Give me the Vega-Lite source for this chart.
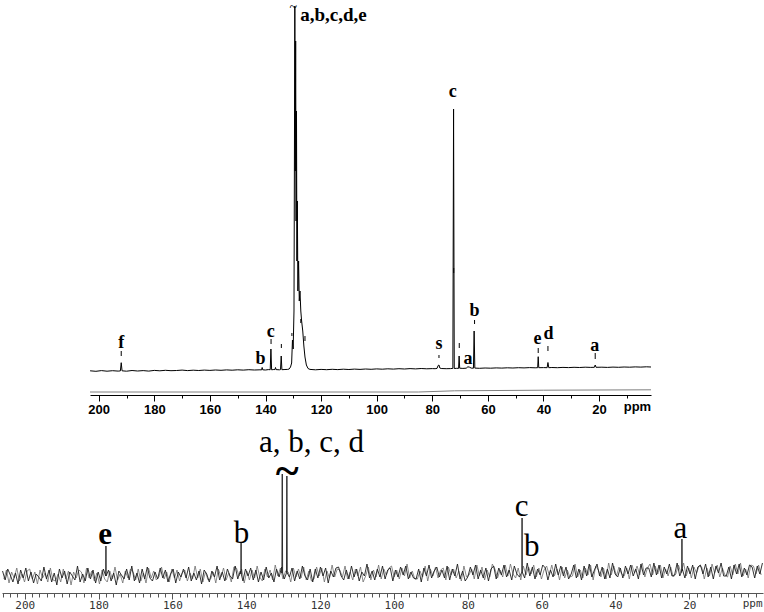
{
  "$schema": "https://vega.github.io/schema/vega-lite/v6.json",
  "padding": 0,
  "background": "white",
  "spacing": 31,
  "bounds": "flush",
  "config": {"view": {"stroke": null}, "axis": {"grid": false}},
  "datasets": {
    "topSpec": [
      {"p":203.1,"v":0.2},{"p":201,"v":-0.3},{"p":199,"v":0.4},{"p":197,"v":-0.2},{"p":195,"v":0.3},{"p":193,"v":-0.1},{"p":192.2,"v":0.1},{"p":191.9,"v":8.3},{"p":191.6,"v":0.2},{"p":190,"v":-0.2},{"p":188,"v":0.5},{"p":186,"v":0.0},{"p":184,"v":0.4},{"p":182,"v":-0.1},{"p":180,"v":0.6},{"p":178,"v":0.2},{"p":176,"v":0.7},{"p":174,"v":0.3},{"p":172,"v":0.5},{"p":170,"v":0.9},{"p":168,"v":0.4},{"p":166,"v":0.8},{"p":164,"v":0.5},{"p":162,"v":0.9},{"p":160,"v":0.6},{"p":158,"v":1.0},{"p":156,"v":0.7},{"p":154,"v":1.1},{"p":152,"v":0.8},{"p":150,"v":1.2},{"p":148,"v":0.9},{"p":146,"v":1.3},{"p":144,"v":1.0},{"p":142,"v":1.2},{"p":141.4,"v":1.1},{"p":141.2,"v":3.5},{"p":141.0,"v":1.2},{"p":140,"v":1.0},{"p":139,"v":1.4},{"p":138.3,"v":1.3},{"p":138.05,"v":22},{"p":137.8,"v":1.2},{"p":137,"v":1.5},{"p":136.6,"v":1.4},{"p":136.4,"v":3.5},{"p":136.2,"v":1.4},{"p":135,"v":1.2},{"p":134.6,"v":1.4},{"p":134.35,"v":15},{"p":134.1,"v":1.3},{"p":133,"v":1.5},{"p":132,"v":1.6},{"p":131.5,"v":2},{"p":131,"v":4},{"p":130.6,"v":8},{"p":130.3,"v":31},{"p":130.05,"v":22},{"p":129.75,"v":60},{"p":129.45,"v":365},{"p":129.3,"v":200},{"p":129.15,"v":330},{"p":129.0,"v":150},{"p":128.85,"v":260},{"p":128.7,"v":110},{"p":128.55,"v":170},{"p":128.35,"v":80},{"p":128.1,"v":110},{"p":127.85,"v":70},{"p":127.6,"v":80},{"p":127.3,"v":60},{"p":127.0,"v":50},{"p":126.6,"v":40},{"p":126.2,"v":25},{"p":125.8,"v":14},{"p":125.3,"v":6},{"p":124.7,"v":2.5},{"p":124,"v":1.6},{"p":122,"v":1.2},{"p":120,"v":1.6},{"p":118,"v":1.3},{"p":116,"v":1.7},{"p":114,"v":1.4},{"p":112,"v":1.8},{"p":110,"v":1.5},{"p":108,"v":1.9},{"p":106,"v":1.6},{"p":104,"v":2.0},{"p":102,"v":1.7},{"p":100,"v":2.1},{"p":98,"v":1.8},{"p":96,"v":2.2},{"p":94,"v":1.9},{"p":92,"v":2.3},{"p":90,"v":2.0},{"p":88,"v":2.4},{"p":86,"v":2.1},{"p":84,"v":2.5},{"p":82,"v":2.2},{"p":80,"v":2.4},{"p":79,"v":2.3},{"p":78.3,"v":2.6},{"p":77.9,"v":5.5},{"p":77.6,"v":6},{"p":77.3,"v":3.0},{"p":76.8,"v":2.5},{"p":75,"v":2.3},{"p":73.5,"v":2.4},{"p":72.6,"v":2.6},{"p":72.35,"v":262},{"p":72.1,"v":2.5},{"p":71.2,"v":2.7},{"p":70.55,"v":2.6},{"p":70.35,"v":15},{"p":70.15,"v":2.8},{"p":69,"v":2.6},{"p":67.8,"v":2.8},{"p":67.2,"v":4.2},{"p":66.6,"v":3.8},{"p":66,"v":2.9},{"p":65.2,"v":2.8},{"p":64.95,"v":40},{"p":64.7,"v":2.9},{"p":63,"v":2.7},{"p":61,"v":3.0},{"p":59,"v":2.8},{"p":57,"v":3.1},{"p":55,"v":2.9},{"p":53,"v":3.2},{"p":51,"v":3.0},{"p":49,"v":3.3},{"p":47,"v":3.1},{"p":45,"v":3.4},{"p":43,"v":3.2},{"p":42.1,"v":3.3},{"p":41.9,"v":14.3},{"p":41.7,"v":3.3},{"p":40,"v":3.4},{"p":38.7,"v":3.3},{"p":38.4,"v":8.5},{"p":38.1,"v":3.3},{"p":37,"v":3.5},{"p":35,"v":3.3},{"p":33,"v":3.6},{"p":31,"v":3.4},{"p":29,"v":3.7},{"p":27,"v":3.5},{"p":25,"v":3.8},{"p":23,"v":3.6},{"p":21.7,"v":3.7},{"p":21.4,"v":6},{"p":21.1,"v":3.7},{"p":19,"v":3.8},{"p":17,"v":3.6},{"p":15,"v":3.9},{"p":13,"v":3.7},{"p":11,"v":4.0},{"p":9,"v":3.8},{"p":7,"v":4.1},{"p":5,"v":3.9},{"p":3,"v":4.2},{"p":1.33,"v":4.0}
    ],
    "topIntegral": [
      {"p":203.13,"v":-21},{"p":85,"v":-21},{"p":72,"v":-19.8},{"p":40,"v":-19.2},{"p":1.33,"v":-18.8}
    ],
    "topDash": [
      {"p":191.9,"v":15,"v2":20},{"p":138.0,"v":27,"v2":32},{"p":134.3,"v":23,"v2":27},{"p":130.5,"v":35,"v2":38},{"p":127.3,"v":48,"v2":52},{"p":125.8,"v":30,"v2":35},{"p":77.6,"v":13,"v2":16},{"p":70.3,"v":23,"v2":28},{"p":64.8,"v":47,"v2":51},{"p":41.9,"v":18,"v2":23},{"p":38.4,"v":20,"v2":25},{"p":21.4,"v":12,"v2":18},{"p":72.3,"v":98,"v2":103}
    ],
    "topLabels": [
      {"p":191.9,"v":28,"t":"f"},{"p":141.8,"v":12,"t":"b"},{"p":138.1,"v":39,"t":"c"},{"p":77.6,"v":27,"t":"s"},{"p":67.2,"v":12,"t":"a"},{"p":64.8,"v":60,"t":"b"},{"p":42.2,"v":32,"t":"e"},{"p":38.2,"v":37,"t":"d"},{"p":21.6,"v":25,"t":"a"},{"p":72.6,"v":279,"t":"c"}
    ],
    "topMain": [{"p":127.5,"v":356,"t":"a,b,c,d,e"}],
    "topTilde": [{"p":130.0,"v":363,"t":"~"}],
    "botSpec": [
      {"p":206,"v":22},{"p":205.3,"v":13},{"p":204.6,"v":24},{"p":203.9,"v":18},{"p":203.2,"v":11},{"p":202.5,"v":20},{"p":201.8,"v":9},{"p":201.1,"v":23},{"p":200.4,"v":15},{"p":199.7,"v":25},
      {"p":199,"v":12},{"p":198.3,"v":21},{"p":197.6,"v":10},{"p":196.9,"v":19},{"p":196.2,"v":16},{"p":195.5,"v":12},{"p":194.8,"v":26},{"p":194.1,"v":14},{"p":193.4,"v":23},{"p":192.7,"v":11},
      {"p":192,"v":20},{"p":191.3,"v":8},{"p":190.6,"v":24},{"p":189.9,"v":15},{"p":189.2,"v":22},{"p":188.5,"v":9},{"p":187.8,"v":21},{"p":187.1,"v":17},{"p":186.4,"v":13},{"p":185.7,"v":27},
      {"p":185,"v":11},{"p":184.3,"v":19},{"p":183.6,"v":12},{"p":182.9,"v":25},{"p":182.2,"v":14},{"p":181.5,"v":23},{"p":180.8,"v":10},{"p":180.1,"v":21},{"p":179.4,"v":12},{"p":178.7,"v":24},
      {"p":178.05,"v":17},{"p":178.0,"v":47},{"p":177.95,"v":17},{"p":177.3,"v":23},{"p":176.6,"v":12},{"p":175.9,"v":20},{"p":175.2,"v":8},{"p":174.5,"v":22},{"p":173.8,"v":18},{"p":173.1,"v":14},{"p":172.4,"v":24},{"p":171.7,"v":13},
      {"p":171,"v":27},{"p":170.3,"v":12},{"p":169.6,"v":20},{"p":168.9,"v":10},{"p":168.2,"v":24},{"p":167.5,"v":14},{"p":166.8,"v":26},{"p":166.1,"v":15},{"p":165.4,"v":12},{"p":164.7,"v":21},
      {"p":164,"v":14},{"p":163.3,"v":25},{"p":162.6,"v":15},{"p":161.9,"v":23},{"p":161.2,"v":11},{"p":160.5,"v":19},{"p":159.8,"v":24},{"p":159.1,"v":10},{"p":158.4,"v":21},{"p":157.7,"v":16},
      {"p":157,"v":24},{"p":156.3,"v":15},{"p":155.6,"v":26},{"p":154.9,"v":12},{"p":154.2,"v":20},{"p":153.5,"v":13},{"p":152.8,"v":22},{"p":152.1,"v":9},{"p":151.4,"v":23},{"p":150.7,"v":19},
      {"p":150,"v":11},{"p":149.3,"v":22},{"p":148.6,"v":16},{"p":147.9,"v":27},{"p":147.2,"v":13},{"p":146.5,"v":21},{"p":145.8,"v":12},{"p":145.1,"v":24},{"p":144.4,"v":17},{"p":143.7,"v":14},
      {"p":143,"v":27},{"p":142.3,"v":14},{"p":141.6,"v":22},{"p":141.45,"v":19},{"p":141.4,"v":50},{"p":141.35,"v":19},{"p":140.9,"v":12},{"p":140.2,"v":24},{"p":139.5,"v":17},{"p":138.8,"v":25},{"p":138.1,"v":13},{"p":137.4,"v":23},{"p":136.7,"v":11},
      {"p":136,"v":21},{"p":135.3,"v":13},{"p":134.6,"v":26},{"p":133.9,"v":15},{"p":133.2,"v":20},{"p":132.5,"v":11},{"p":131.8,"v":24},{"p":131.1,"v":16},{"p":130.4,"v":26},{"p":130.35,"v":20},{"p":130.25,"v":119},{"p":130.15,"v":20},{"p":129.7,"v":14},
      {"p":129.1,"v":20},{"p":129.0,"v":117},{"p":128.9,"v":20},{"p":128.3,"v":16},{"p":127.6,"v":25},{"p":126.9,"v":12},{"p":126.2,"v":22},{"p":125.5,"v":14},{"p":124.8,"v":27},{"p":124.1,"v":17},{"p":123.4,"v":13},{"p":122.7,"v":24},
      {"p":122,"v":11},{"p":121.3,"v":24},{"p":120.6,"v":15},{"p":119.9,"v":26},{"p":119.2,"v":17},{"p":118.5,"v":25},{"p":117.8,"v":10},{"p":117.1,"v":22},{"p":116.4,"v":16},{"p":115.7,"v":25},
      {"p":115,"v":26},{"p":114.3,"v":17},{"p":113.6,"v":13},{"p":112.9,"v":23},{"p":112.2,"v":14},{"p":111.5,"v":27},{"p":110.8,"v":16},{"p":110.1,"v":24},{"p":109.4,"v":12},{"p":108.7,"v":21},
      {"p":108,"v":17},{"p":107.3,"v":29},{"p":106.6,"v":15},{"p":105.9,"v":22},{"p":105.2,"v":13},{"p":104.5,"v":24},{"p":103.8,"v":16},{"p":103.1,"v":27},{"p":102.4,"v":14},{"p":101.7,"v":23},
      {"p":101,"v":25},{"p":100.3,"v":12},{"p":99.6,"v":23},{"p":98.9,"v":16},{"p":98.2,"v":26},{"p":97.5,"v":18},{"p":96.8,"v":27},{"p":96.1,"v":14},{"p":95.4,"v":21},{"p":94.7,"v":15},
      {"p":94,"v":14},{"p":93.3,"v":24},{"p":92.6,"v":11},{"p":91.9,"v":25},{"p":91.2,"v":17},{"p":90.5,"v":28},{"p":89.8,"v":15},{"p":89.1,"v":22},{"p":88.4,"v":26},{"p":87.7,"v":16},
      {"p":87,"v":23},{"p":86.3,"v":15},{"p":85.6,"v":27},{"p":84.9,"v":13},{"p":84.2,"v":24},{"p":83.5,"v":17},{"p":82.8,"v":29},{"p":82.1,"v":14},{"p":81.4,"v":22},{"p":80.7,"v":12},
      {"p":80,"v":16},{"p":79.3,"v":26},{"p":78.6,"v":18},{"p":77.9,"v":28},{"p":77.2,"v":14},{"p":76.5,"v":23},{"p":75.8,"v":15},{"p":75.1,"v":25},{"p":74.4,"v":12},{"p":73.7,"v":24},
      {"p":73,"v":27},{"p":72.3,"v":14},{"p":71.6,"v":25},{"p":70.9,"v":18},{"p":70.2,"v":28},{"p":69.5,"v":16},{"p":68.8,"v":23},{"p":68.1,"v":13},{"p":67.4,"v":27},{"p":66.7,"v":19},
      {"p":66,"v":16},{"p":65.35,"v":21},{"p":65.3,"v":75},{"p":65.25,"v":21},{"p":64.6,"v":15},{"p":63.9,"v":30},{"p":63.2,"v":17},{"p":62.5,"v":26},{"p":61.8,"v":14},{"p":61.1,"v":24},{"p":60.4,"v":18},{"p":59.7,"v":28},
      {"p":59,"v":25},{"p":58.3,"v":13},{"p":57.6,"v":23},{"p":56.9,"v":16},{"p":56.2,"v":29},{"p":55.5,"v":18},{"p":54.8,"v":27},{"p":54.1,"v":17},{"p":53.4,"v":26},{"p":52.7,"v":14},
      {"p":52,"v":19},{"p":51.3,"v":28},{"p":50.6,"v":15},{"p":49.9,"v":24},{"p":49.2,"v":13},{"p":48.5,"v":27},{"p":47.8,"v":17},{"p":47.1,"v":29},{"p":46.4,"v":16},{"p":45.7,"v":23},
      {"p":45,"v":29},{"p":44.3,"v":17},{"p":43.6,"v":26},{"p":42.9,"v":14},{"p":42.2,"v":24},{"p":41.5,"v":15},{"p":40.8,"v":30},{"p":40.1,"v":19},{"p":39.4,"v":16},{"p":38.7,"v":25},
      {"p":38,"v":15},{"p":37.3,"v":27},{"p":36.6,"v":19},{"p":35.9,"v":28},{"p":35.2,"v":17},{"p":34.5,"v":24},{"p":33.8,"v":14},{"p":33.1,"v":29},{"p":32.4,"v":18},{"p":31.7,"v":25},
      {"p":31,"v":25},{"p":30.3,"v":16},{"p":29.6,"v":30},{"p":28.9,"v":18},{"p":28.2,"v":28},{"p":27.5,"v":15},{"p":26.8,"v":26},{"p":26.1,"v":19},{"p":25.4,"v":29},{"p":24.7,"v":17},
      {"p":24,"v":18},{"p":23.3,"v":30},{"p":22.6,"v":17},{"p":22.05,"v":22},{"p":22.0,"v":54},{"p":21.95,"v":22},{"p":21.9,"v":24},{"p":21.2,"v":15},{"p":20.5,"v":27},{"p":19.8,"v":19},{"p":19.1,"v":28},{"p":18.4,"v":14},{"p":17.7,"v":26},
      {"p":17,"v":28},{"p":16.3,"v":19},{"p":15.6,"v":29},{"p":14.9,"v":16},{"p":14.2,"v":26},{"p":13.5,"v":14},{"p":12.8,"v":27},{"p":12.1,"v":20},{"p":11.4,"v":30},{"p":10.7,"v":17},
      {"p":10,"v":17},{"p":9.3,"v":26},{"p":8.6,"v":14},{"p":7.9,"v":28},{"p":7.2,"v":19},{"p":6.5,"v":29},{"p":5.8,"v":16},{"p":5.1,"v":25},{"p":4.4,"v":18},{"p":3.7,"v":28},
      {"p":3,"v":26},{"p":2.3,"v":15},{"p":1.6,"v":27},{"p":0.9,"v":19},{"p":0.2,"v":30}
    ],
    "botNoise2": [
      {"p":205.65,"v":14},{"p":204.95,"v":23},{"p":204.25,"v":10},{"p":203.55,"v":21},{"p":202.85,"v":15},{"p":202.15,"v":25},{"p":201.45,"v":12},{"p":200.75,"v":19},{"p":200.05,"v":11},{"p":199.35,"v":22},
      {"p":198.65,"v":24},{"p":197.95,"v":14},{"p":197.25,"v":21},{"p":196.55,"v":9},{"p":195.85,"v":23},{"p":195.15,"v":15},{"p":194.45,"v":20},{"p":193.75,"v":11},{"p":193.05,"v":25},{"p":192.35,"v":13},
      {"p":191.65,"v":12},{"p":190.95,"v":19},{"p":190.25,"v":11},{"p":189.55,"v":24},{"p":188.85,"v":14},{"p":188.15,"v":22},{"p":187.45,"v":8},{"p":186.75,"v":21},{"p":186.05,"v":15},{"p":185.35,"v":23},
      {"p":184.65,"v":21},{"p":183.95,"v":10},{"p":183.25,"v":25},{"p":182.55,"v":15},{"p":181.85,"v":22},{"p":181.15,"v":12},{"p":180.45,"v":20},{"p":179.75,"v":9},{"p":179.05,"v":23},{"p":178.35,"v":14},
      {"p":177.65,"v":11},{"p":176.95,"v":22},{"p":176.25,"v":14},{"p":175.55,"v":26},{"p":174.85,"v":13},{"p":174.15,"v":19},{"p":173.45,"v":10},{"p":172.75,"v":22},{"p":172.05,"v":15},{"p":171.35,"v":24},
      {"p":170.65,"v":21},{"p":169.95,"v":13},{"p":169.25,"v":24},{"p":168.55,"v":12},{"p":167.85,"v":20},{"p":167.15,"v":10},{"p":166.45,"v":25},{"p":165.75,"v":15},{"p":165.05,"v":22},{"p":164.35,"v":13},
      {"p":163.65,"v":16},{"p":162.95,"v":26},{"p":162.25,"v":14},{"p":161.55,"v":21},{"p":160.85,"v":11},{"p":160.15,"v":24},{"p":159.45,"v":15},{"p":158.75,"v":23},{"p":158.05,"v":12},{"p":157.35,"v":20},
      {"p":156.65,"v":23},{"p":155.95,"v":12},{"p":155.25,"v":20},{"p":154.55,"v":14},{"p":153.85,"v":27},{"p":153.15,"v":15},{"p":152.45,"v":24},{"p":151.75,"v":11},{"p":151.05,"v":21},{"p":150.35,"v":13},
      {"p":149.65,"v":14},{"p":148.95,"v":21},{"p":148.25,"v":10},{"p":147.55,"v":24},{"p":146.85,"v":16},{"p":146.15,"v":25},{"p":145.45,"v":13},{"p":144.75,"v":20},{"p":144.05,"v":11},{"p":143.35,"v":26},
      {"p":142.65,"v":25},{"p":141.95,"v":17},{"p":141.25,"v":24},{"p":140.55,"v":10},{"p":139.85,"v":22},{"p":139.15,"v":13},{"p":138.45,"v":23},{"p":137.75,"v":15},{"p":137.05,"v":27},{"p":136.35,"v":16},
      {"p":135.65,"v":12},{"p":134.95,"v":24},{"p":134.25,"v":16},{"p":133.55,"v":23},{"p":132.85,"v":13},{"p":132.15,"v":28},{"p":131.45,"v":17},{"p":130.75,"v":25},{"p":130.05,"v":14},{"p":129.35,"v":22},
      {"p":128.65,"v":21},{"p":127.95,"v":11},{"p":127.25,"v":25},{"p":126.55,"v":16},{"p":125.85,"v":24},{"p":125.15,"v":15},{"p":124.45,"v":26},{"p":123.75,"v":13},{"p":123.05,"v":22},{"p":122.35,"v":12},
      {"p":121.65,"v":14},{"p":120.95,"v":26},{"p":120.25,"v":17},{"p":119.55,"v":25},{"p":118.85,"v":11},{"p":118.15,"v":22},{"p":117.45,"v":15},{"p":116.75,"v":28},{"p":116.05,"v":16},{"p":115.35,"v":24},
      {"p":114.65,"v":23},{"p":113.95,"v":16},{"p":113.25,"v":27},{"p":112.55,"v":14},{"p":111.85,"v":21},{"p":111.15,"v":13},{"p":110.45,"v":24},{"p":109.75,"v":17},{"p":109.05,"v":26},{"p":108.35,"v":11},
      {"p":107.65,"v":17},{"p":106.95,"v":26},{"p":106.25,"v":13},{"p":105.55,"v":23},{"p":104.85,"v":16},{"p":104.15,"v":28},{"p":103.45,"v":14},{"p":102.75,"v":24},{"p":102.05,"v":18},{"p":101.35,"v":25},
      {"p":100.65,"v":27},{"p":99.95,"v":16},{"p":99.25,"v":23},{"p":98.55,"v":14},{"p":97.85,"v":25},{"p":97.15,"v":17},{"p":96.45,"v":29},{"p":95.75,"v":15},{"p":95.05,"v":22},{"p":94.35,"v":14},
      {"p":93.65,"v":14},{"p":92.95,"v":22},{"p":92.25,"v":16},{"p":91.55,"v":27},{"p":90.85,"v":12},{"p":90.15,"v":24},{"p":89.45,"v":17},{"p":88.75,"v":26},{"p":88.05,"v":15},{"p":87.35,"v":23},
      {"p":86.65,"v":25},{"p":85.95,"v":13},{"p":85.25,"v":26},{"p":84.55,"v":18},{"p":83.85,"v":24},{"p":83.15,"v":15},{"p":82.45,"v":22},{"p":81.75,"v":12},{"p":81.05,"v":27},{"p":80.35,"v":16},
      {"p":79.65,"v":18},{"p":78.95,"v":24},{"p":78.25,"v":14},{"p":77.55,"v":28},{"p":76.85,"v":17},{"p":76.15,"v":26},{"p":75.45,"v":13},{"p":74.75,"v":23},{"p":74.05,"v":16},{"p":73.35,"v":29},
      {"p":72.65,"v":24},{"p":71.95,"v":15},{"p":71.25,"v":23},{"p":70.55,"v":16},{"p":69.85,"v":28},{"p":69.15,"v":17},{"p":68.45,"v":29},{"p":67.75,"v":19},{"p":67.05,"v":15},{"p":66.35,"v":25},
      {"p":65.65,"v":13},{"p":64.95,"v":27},{"p":64.25,"v":18},{"p":63.55,"v":26},{"p":62.85,"v":19},{"p":62.15,"v":28},{"p":61.45,"v":16},{"p":60.75,"v":25},{"p":60.05,"v":14},{"p":59.35,"v":23},
      {"p":58.65,"v":27},{"p":57.95,"v":18},{"p":57.25,"v":28},{"p":56.55,"v":17},{"p":55.85,"v":24},{"p":55.15,"v":13},{"p":54.45,"v":26},{"p":53.75,"v":15},{"p":53.05,"v":23},{"p":52.35,"v":16},
      {"p":51.65,"v":17},{"p":50.95,"v":29},{"p":50.25,"v":16},{"p":49.55,"v":23},{"p":48.85,"v":15},{"p":48.15,"v":25},{"p":47.45,"v":18},{"p":46.75,"v":28},{"p":46.05,"v":13},{"p":45.35,"v":27},
      {"p":44.65,"v":23},{"p":43.95,"v":16},{"p":43.25,"v":25},{"p":42.55,"v":14},{"p":41.85,"v":30},{"p":41.15,"v":18},{"p":40.45,"v":27},{"p":39.75,"v":17},{"p":39.05,"v":26},{"p":38.35,"v":19},
      {"p":37.65,"v":17},{"p":36.95,"v":25},{"p":36.25,"v":14},{"p":35.55,"v":28},{"p":34.85,"v":20},{"p":34.15,"v":27},{"p":33.45,"v":18},{"p":32.75,"v":30},{"p":32.05,"v":16},{"p":31.35,"v":25},
      {"p":30.65,"v":29},{"p":29.95,"v":18},{"p":29.25,"v":27},{"p":28.55,"v":19},{"p":27.85,"v":28},{"p":27.15,"v":15},{"p":26.45,"v":24},{"p":25.75,"v":17},{"p":25.05,"v":26},{"p":24.35,"v":16},
      {"p":23.65,"v":19},{"p":22.95,"v":28},{"p":22.25,"v":20},{"p":21.55,"v":30},{"p":20.85,"v":17},{"p":20.15,"v":25},{"p":19.45,"v":15},{"p":18.75,"v":26},{"p":18.05,"v":20},{"p":17.35,"v":27},
      {"p":16.65,"v":26},{"p":15.95,"v":14},{"p":15.25,"v":25},{"p":14.55,"v":17},{"p":13.85,"v":29},{"p":13.15,"v":20},{"p":12.45,"v":28},{"p":11.75,"v":16},{"p":11.05,"v":25},{"p":10.35,"v":18},
      {"p":9.65,"v":16},{"p":8.95,"v":27},{"p":8.25,"v":18},{"p":7.55,"v":29},{"p":6.85,"v":19},{"p":6.15,"v":30},{"p":5.45,"v":17},{"p":4.75,"v":24},{"p":4.05,"v":15},{"p":3.35,"v":28},
      {"p":2.65,"v":27},{"p":1.95,"v":19},{"p":1.25,"v":28},{"p":0.55,"v":18}
    ],
    "botLabels": [
      {"p":141.3,"v":50,"t":"b"},{"p":122.3,"v":141,"t":"a, b, c, d"},{"p":65.4,"v":77,"t":"c"},{"p":62.7,"v":37,"t":"b"},{"p":22.4,"v":55,"t":"a"}
    ],
    "botBold": [{"p":178.2,"v":49,"t":"e"}],
    "botTilde": [{"p":128.9,"v":121,"t":"~"}]
  },
  "vconcat": [
    {
      "width": 764,
      "height": 394,
      "encoding": {
        "x": {
          "field": "p", "type": "quantitative",
          "scale": {"domain": [1.33, 203.13], "reverse": true, "range": [88, 649], "nice": false, "zero": false},
          "axis": {
            "values": [200,190,180,170,160,150,140,130,120,110,100,90,80,70,60,50,40,30,20,10,6.4],
            "labelExpr": "datum.value == 6.4 ? 'ppm' : (datum.value % 20 == 0 ? datum.label : '')",
            "tickSize": {"condition": {"test": "datum.value % 20 == 0", "value": 6}, "value": 3},
            "tickOpacity": {"condition": {"test": "datum.value == 6.4", "value": 0}, "value": 1},
            "domainColor": "#000", "tickColor": "#000", "labelColor": "#000",
            "labelFont": "Liberation Sans", "labelFontWeight": "bold", "labelFontSize": 13,
            "labelPadding": 2, "labelOverlap": false, "labelFlush": false,
            "title": null, "grid": false
          }
        },
        "y": {
          "field": "v", "type": "quantitative",
          "scale": {"domain": [-24, 370], "nice": false, "zero": false},
          "axis": null
        }
      },
      "layer": [
        {"data": {"name": "topIntegral"}, "mark": {"type": "line", "color": "#808080", "strokeWidth": 1}},
        {"data": {"name": "topSpec"}, "mark": {"type": "line", "color": "#000000", "strokeWidth": 1}},
        {"data": {"name": "topDash"}, "mark": {"type": "rule", "color": "#000000", "strokeWidth": 1}, "encoding": {"y2": {"field": "v2"}}},
        {"data": {"name": "topLabels"}, "mark": {"type": "text", "font": "Liberation Serif", "fontWeight": "bold", "fontSize": 18, "align": "center", "baseline": "middle", "color": "#000"}, "encoding": {"text": {"field": "t"}}},
        {"data": {"name": "topMain"}, "mark": {"type": "text", "font": "Liberation Serif", "fontWeight": "bold", "fontSize": 19, "align": "left", "baseline": "middle", "color": "#000"}, "encoding": {"text": {"field": "t"}}},
        {"data": {"name": "topTilde"}, "mark": {"type": "text", "font": "Liberation Serif", "fontSize": 14, "align": "center", "baseline": "middle", "color": "#000"}, "encoding": {"text": {"field": "t"}}}
      ]
    },
    {
      "width": 764,
      "height": 167,
      "encoding": {
        "x": {
          "field": "p", "type": "quantitative",
          "scale": {"domain": [0.05, 206.15], "reverse": true, "range": [0, 761], "nice": false, "zero": false},
          "axis": {
            "values": [206,204,202,200,198,196,194,192,190,188,186,184,182,180,178,176,174,172,170,168,166,164,162,160,158,156,154,152,150,148,146,144,142,140,138,136,134,132,130,128,126,124,122,120,118,116,114,112,110,108,106,104,102,100,98,96,94,92,90,88,86,84,82,80,78,76,74,72,70,68,66,64,62,60,58,56,54,52,50,48,46,44,42,40,38,36,34,32,30,28,26,24,22,20,18,16,14,12,10,8,6,4,2,3],
            "labelExpr": "datum.value == 3 ? 'ppm' : (datum.value % 20 == 0 ? datum.label : '')",
            "tickSize": {"condition": {"test": "datum.value % 20 == 0", "value": 6}, "value": 4},
            "tickOpacity": {"condition": {"test": "datum.value == 3", "value": 0}, "value": 1},
            "domainColor": "#555", "tickColor": "#555", "labelColor": "#333",
            "labelFont": "DejaVu Sans Mono", "labelFontSize": 11,
            "labelPadding": 0, "labelOverlap": false, "labelFlush": false,
            "title": null, "grid": false
          }
        },
        "y": {
          "field": "v", "type": "quantitative",
          "scale": {"domain": [0, 167], "nice": false, "zero": false},
          "axis": null
        }
      },
      "layer": [
        {"data": {"name": "botNoise2"}, "mark": {"type": "line", "color": "#6e6e6e", "strokeWidth": 0.8}},
        {"data": {"name": "botSpec"}, "mark": {"type": "line", "color": "#1e1e1e", "strokeWidth": 0.9}},
        {"data": {"name": "botLabels"}, "mark": {"type": "text", "font": "Liberation Serif", "fontSize": 31, "align": "center", "baseline": "alphabetic", "color": "#000"}, "encoding": {"text": {"field": "t"}}},
        {"data": {"name": "botBold"}, "mark": {"type": "text", "font": "Liberation Serif", "fontWeight": "bold", "fontSize": 31, "align": "center", "baseline": "alphabetic", "color": "#000"}, "encoding": {"text": {"field": "t"}}},
        {"data": {"name": "botTilde"}, "mark": {"type": "text", "font": "Liberation Serif", "fontWeight": "bold", "fontSize": 44, "align": "center", "baseline": "middle", "color": "#000"}, "encoding": {"text": {"field": "t"}}}
      ]
    }
  ]
}
